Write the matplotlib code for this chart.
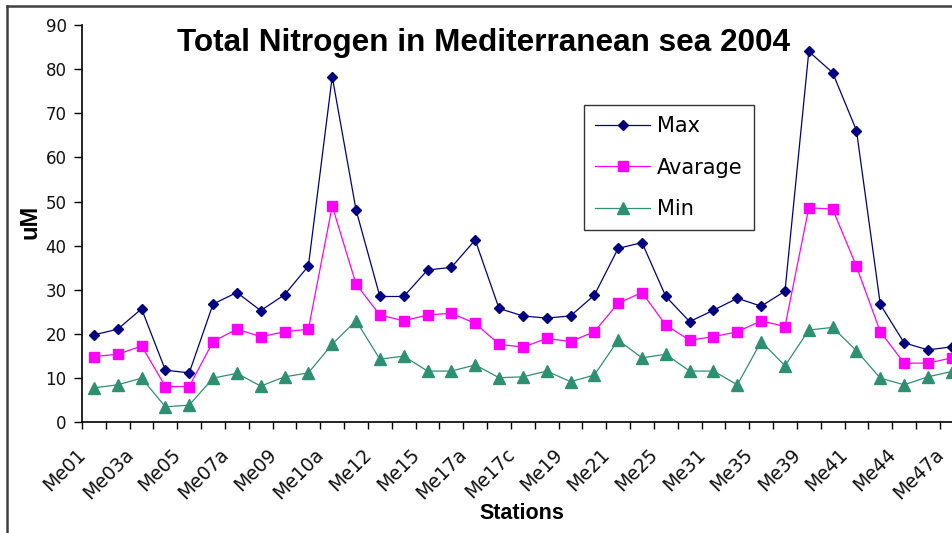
import matplotlib
matplotlib.use("Agg")
import matplotlib.pyplot as plt
from matplotlib.lines import Line2D
from matplotlib.transforms import ScaledTranslation

# Station labels (every other station is labelled on the axis)
tick_labels = ["Me01", "Me03a", "Me05", "Me07a", "Me09", "Me10a", "Me12", "Me15",
               "Me17a", "Me17c", "Me19", "Me21", "Me25", "Me31", "Me35", "Me39",
               "Me41", "Me44", "Me47a"]

max_vals = [19.8, 21.1, 25.7, 11.8, 11.2, 26.8, 29.4, 25.3, 28.9, 35.4,
            78.3, 48.1, 28.5, 28.5, 34.5, 35.1, 41.3, 25.8, 24.1, 23.6,
            24.1, 28.8, 39.4, 40.7, 28.5, 22.8, 25.4, 28.1, 26.3, 29.7,
            84.0, 79.2, 66.1, 26.7, 18.0, 16.4, 17.1]
avg_vals = [14.9, 15.4, 17.3, 8.1, 8.1, 18.3, 21.1, 19.4, 20.5, 21.1,
            49.0, 31.3, 24.3, 23.0, 24.3, 24.7, 22.4, 17.7, 17.0, 19.0,
            18.3, 20.5, 27.0, 29.4, 22.0, 18.6, 19.4, 20.5, 23.0, 21.7,
            48.6, 48.3, 35.3, 20.5, 13.4, 13.4, 14.6]
min_vals = [7.8, 8.5, 10.0, 3.5, 3.9, 10.0, 11.1, 8.2, 10.3, 11.2,
            17.7, 23.0, 14.3, 15.0, 11.6, 11.6, 13.0, 10.1, 10.3, 11.6,
            9.2, 10.7, 18.6, 14.6, 15.4, 11.6, 11.6, 8.5, 18.3, 12.8,
            20.9, 21.5, 16.2, 10.0, 8.5, 10.3, 11.5]

W, H = 953, 533
fig = plt.figure(figsize=(W / 100, H / 100), dpi=100)
fig.patch.set_facecolor("white")

# Outer chart frame (top and left edges visible)
fig.add_artist(Line2D([6.7 / W, 6.7 / W], [0, 1 - 5.7 / H], transform=fig.transFigure,
                      color="#404040", lw=1.8))
fig.add_artist(Line2D([6.7 / W, 1], [1 - 5.7 / H, 1 - 5.7 / H], transform=fig.transFigure,
                      color="#404040", lw=1.8))

n = len(max_vals)
left_px, right_px = 82, 82 + n * 23.83
top_px, bottom_px = 25, 422.3
ax = fig.add_axes([left_px / W, 1 - bottom_px / H,
                   (right_px - left_px) / W, (bottom_px - top_px) / H])
ax.set_xlim(-0.5, n - 0.5)
ax.set_ylim(0, 90)

x = list(range(n))
navy, magenta, green = "#000080", "#FF00FF", "#2E9070"
ax.plot(x, max_vals, color=navy, lw=0.9, marker="D", ms=5.2, mfc=navy, mec=navy,
        label="Max", clip_on=False, zorder=3)
ax.plot(x, avg_vals, color=magenta, lw=0.9, marker="s", ms=7, mfc=magenta, mec=magenta,
        label="Avarage", clip_on=False, zorder=3)
ax.plot(x, min_vals, color=green, lw=0.9, marker="^", ms=8, mfc=green, mec=green,
        label="Min", clip_on=False, zorder=3)

for s in ("top", "right"):
    ax.spines[s].set_visible(False)
for s in ("left", "bottom"):
    ax.spines[s].set_color("black")
    ax.spines[s].set_linewidth(1.2)

# y axis
ax.set_yticks(range(0, 91, 10))
ax.tick_params(axis="y", direction="out", length=6, width=1, pad=5,
               labelsize=12, labelcolor="#111111")
for lab in ax.get_yticklabels():
    lab.set_family("DejaVu Sans")

# x axis: tick marks between stations, labels under every other station
ax.set_xticks([i - 0.5 for i in range(n + 1)])
ax.set_xticklabels([])
ax.tick_params(axis="x", which="major", direction="out", length=5, width=1)
label_pos = list(range(0, n, 2))
ax.set_xticks(label_pos, minor=True)
ax.set_xticklabels(tick_labels, minor=True, rotation=45, ha="right", va="top",
                   rotation_mode="anchor", fontsize=13.5, family="DejaVu Sans",
                   color="#111111")
ax.tick_params(axis="x", which="minor", length=0, pad=16)
shift = ScaledTranslation(-18 / 100, 0, fig.dpi_scale_trans)
for lab in ax.get_xticklabels(minor=True):
    lab.set_transform(lab.get_transform() + shift)

ax.set_ylabel("uM", fontsize=17, fontweight="bold", family="Liberation Sans")
ax.yaxis.set_label_coords(-0.046, 0.505)
ax.set_xlabel("Stations", fontsize=15.5, fontweight="bold", family="Liberation Sans")
ax.xaxis.set_label_coords((522 - left_px) / (right_px - left_px),
                          -(503 - bottom_px) / (bottom_px - top_px))
ax.xaxis.label.set_va("top")

fig.text(484 / W, 1 - 43 / H, "Total Nitrogen in Mediterranean sea 2004",
         ha="center", va="center", fontsize=22.7, fontweight="bold",
         family="Liberation Sans")

leg = ax.legend(loc="upper left", bbox_to_anchor=(584 / W, 1 - 105 / H),
                bbox_transform=fig.transFigure, frameon=True, fancybox=False,
                shadow=False, borderaxespad=0, borderpad=0.55, labelspacing=1.02,
                handlelength=2.6, handletextpad=0.35,
                prop={"family": "DejaVu Sans", "size": 15})
leg.get_frame().set_edgecolor("black")
leg.get_frame().set_linewidth(1.0)

fig.savefig("out.png", dpi=100, facecolor="white")
